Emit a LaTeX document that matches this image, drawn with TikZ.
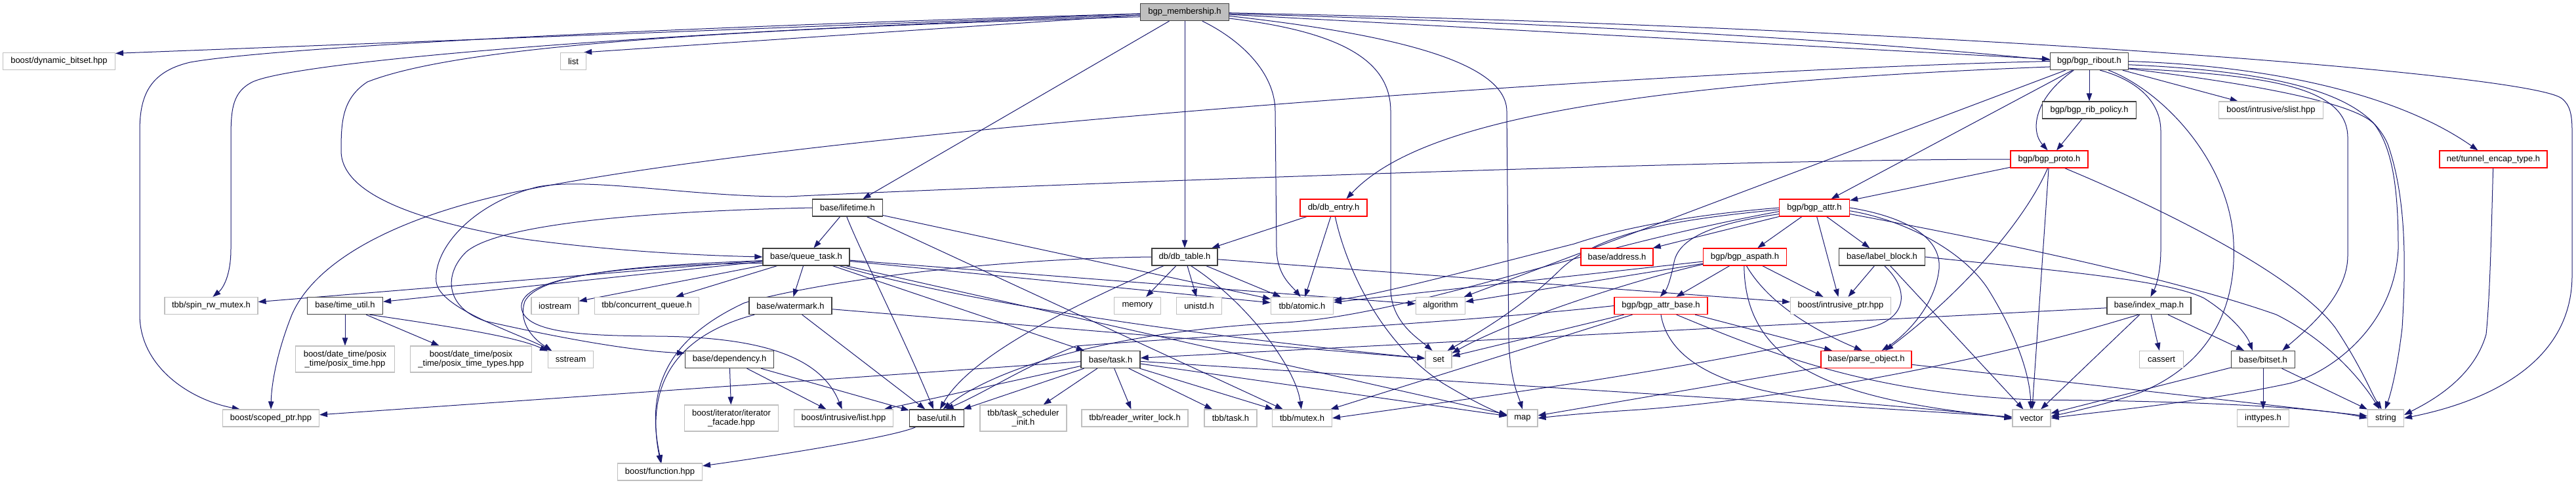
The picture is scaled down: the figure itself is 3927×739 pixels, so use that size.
\documentclass[tikz,border=0pt]{standalone}
\usepackage{fontspec}
\setmainfont{Liberation Sans}
\usetikzlibrary{arrows.meta,backgrounds}
\definecolor{edgeblue}{HTML}{191970}
\definecolor{boxgrey}{HTML}{BFBFBF}
\definecolor{rootline}{HTML}{404040}
\definecolor{boxred}{HTML}{FF0000}
\tikzset{
  nd/.style={rectangle, inner sep=0pt, minimum height=26pt, fill=white, align=center, font=\fontsize{13}{14.5}\selectfont, text=black},
  gn/.style={nd, draw=boxgrey, line width=1.1pt},
  bn/.style={nd, draw=rootline, line width=1.3pt},
  rn/.style={nd, draw=boxred, line width=1.3pt},
  rt/.style={nd, draw=rootline, fill=boxgrey, line width=1.3pt},
  W/.style={minimum width=#1pt},
  tall/.style={minimum height=40pt},
  edg/.style={draw=edgeblue, line width=1pt, -{Triangle[length=12pt,width=8.5pt]}},
}
\begin{document}
\begin{tikzpicture}[x=1pt,y=-1pt]
\useasboundingbox (0,0) rectangle (3927,739);
% ---------- nodes ----------
\node[rt,W=135] (M) at (1806,18.5) {bgp\_membership.h};
\node[gn,W=171] (dynb) at (90,93.5) {boost/dynamic\_bitset.hpp};
\node[gn,W=39] (list) at (874,93.5) {list};
\node[bn,W=119] (R) at (3185,93.5) {bgp/bgp\_ribout.h};
\node[bn,W=143] (ribpol) at (3185,168) {bgp/bgp\_rib\_policy.h};
\node[gn,W=159] (slist) at (3462,168) {boost/intrusive/slist.hpp};
\node[rn,W=118] (P) at (3124,243) {bgp/bgp\_proto.h};
\node[rn,W=164] (tunnel) at (3801,243) {net/tunnel\_encap\_type.h};
\node[bn,W=107] (lifetime) at (1292,317) {base/lifetime.h};
\node[rn,W=102] (DE) at (2033,317) {db/db\_entry.h};
\node[rn,W=107] (A) at (2766,317) {bgp/bgp\_attr.h};
\node[bn,W=132] (Q) at (1229,392) {base/queue\_task.h};
\node[bn,W=100] (DT) at (1806,392) {db/db\_table.h};
\node[rn,W=110] (address) at (2465,392) {base/address.h};
\node[rn,W=127] (aspath) at (2660,392) {bgp/bgp\_aspath.h};
\node[bn,W=131] (labelblock) at (2869,392) {base/label\_block.h};
\node[gn,W=142] (spinrw) at (322,466.5) {tbb/spin\_rw\_mutex.h};
\node[bn,W=115] (timeutil) at (526,466.5) {base/time\_util.h};
\node[gn,W=72] (iostream) at (846,466.5) {iostream};
\node[gn,W=159] (concq) at (986,466.5) {tbb/concurrent\_queue.h};
\node[bn,W=126] (watermark) at (1205,466.5) {base/watermark.h};
\node[gn,W=71] (memory) at (1734,466.5) {memory};
\node[gn,W=69] (unistd) at (1828,466.5) {unistd.h};
\node[gn,W=95] (atomic) at (1985,466.5) {tbb/atomic.h};
\node[gn,W=75] (algorithm) at (2196,466.5) {algorithm};
\node[rn,W=142] (attrbase) at (2532,466.5) {bgp/bgp\_attr\_base.h};
\node[gn,W=153] (intrusiveptr) at (2806,466.5) {boost/intrusive\_ptr.hpp};
\node[bn,W=128] (indexmap) at (3276,466.5) {base/index\_map.h};
\node[gn,W=151,tall] (posixtime) at (526,548) {boost/date\_time/posix\\\_time/posix\_time.hpp};
\node[gn,W=185,tall] (posixtypes) at (718,548) {boost/date\_time/posix\\\_time/posix\_time\_types.hpp};
\node[gn,W=69] (sstream) at (870,548.5) {sstream};
\node[bn,W=135] (dependency) at (1112,548.5) {base/dependency.h};
\node[bn,W=90] (T) at (1693,548.5) {base/task.h};
\node[gn,W=40] (set) at (2193,548.5) {set};
\node[rn,W=138] (parse) at (2845,548.5) {base/parse\_object.h};
\node[gn,W=67] (cassert) at (3295,548.5) {cassert};
\node[bn,W=97] (bitset) at (3450,548.5) {base/bitset.h};
\node[gn,W=147] (scoped) at (413,638) {boost/scoped\_ptr.hpp};
\node[gn,W=143,tall] (iterfacade) at (1115,638) {boost/iterator/iterator\\\_facade.hpp};
\node[gn,W=151] (ilist) at (1286,638) {boost/intrusive/list.hpp};
\node[bn,W=83] (util) at (1428,638) {base/util.h};
\node[gn,W=132,tall] (tsi) at (1560,638) {tbb/task\_scheduler\\\_init.h};
\node[gn,W=162] (rwlock) at (1730,638) {tbb/reader\_writer\_lock.h};
\node[gn,W=80] (tbbtask) at (1876,638) {tbb/task.h};
\node[gn,W=91] (mutex) at (1985,638) {tbb/mutex.h};
\node[gn,W=46] (map) at (2321,638) {map};
\node[gn,W=58] (vector) at (3097,638) {vector};
\node[gn,W=79] (inttypes) at (3450,638) {inttypes.h};
\node[gn,W=55] (string) at (3637,638) {string};
\node[gn,W=129] (function) at (1006,720) {boost/function.hpp};
% ---------- edges ----------
\begin{scope}[on background layer]
\fill[white] (0,0) rectangle (3927,739);
% bgp_membership.h
\draw[edg] (M) -- (dynb.8);
\draw[edg] (M) -- (list.40);
\draw[edg] (M.182) .. controls (900,45) and (400,75) .. (290,95) .. controls (225,110) and (213,150) .. (213,200) -- (213,480) .. controls (213,560) and (290,610) .. (scoped.164);
\draw[edg] (M.184) .. controls (950,50) and (450,95) .. (385,125) .. controls (355,140) and (352,165) .. (352,210) -- (352,380) .. controls (352,420) and (340,440) .. (spinrw.80);
\draw[edg] (M.186) .. controls (1100,45) and (700,70) .. (560,125) .. controls (522,150) and (520,185) .. (520,230) .. controls (520,300) and (650,340) .. (800,365) .. controls (950,385) and (1080,390) .. (Q.west);
\draw[edg] (M) -- (lifetime);
\draw[edg] (M) -- (DT);
\draw[edg] (M.-27) .. controls (1890,60) and (1944,110) .. (1944,170) -- (1946,380) .. controls (1947,420) and (1968,435) .. (atomic.100);
\draw[edg] (M.-8) .. controls (2060,50) and (2120,100) .. (2120,170) -- (2120,440) .. controls (2120,490) and (2160,515) .. (set.125);
\draw[edg] (M.-5) .. controls (2150,55) and (2297,100) .. (2297,170) -- (2300,520) .. controls (2302,580) and (2315,605) .. (map.north);
\draw[edg] (M) -- (R);
\draw[edg] (M.-1) .. controls (2900,40) and (3850,110) .. (3905,150) .. controls (3918,160) and (3921,175) .. (3921,200) -- (3921,420) .. controls (3921,560) and (3780,615) .. (string.east);
\draw[edg] (M.-2) .. controls (2900,50) and (3560,120) .. (3620,190) .. controls (3650,230) and (3656,300) .. (3656,380) .. controls (3650,500) and (3550,570) .. (3490,585) .. controls (3350,615) and (3200,628) .. (vector.east);
% bgp_ribout.h
\draw[edg] (R.west) .. controls (2600,105) and (1300,190) .. (800,290) .. controls (600,330) and (480,400) .. (445,480) .. controls (425,530) and (414,580) .. (scoped.north);
\draw[edg] (R.188) .. controls (2400,130) and (2150,200) .. (DE.35);
\draw[edg] (R) -- (algorithm);
\draw[edg] (R) -- (A);
\draw[edg] (R.-150) .. controls (3100,150) and (3095,200) .. (P.100);
\draw[edg] (R) -- (ribpol);
\draw[edg] (R) -- (slist);
\draw[edg] (R.east) .. controls (3450,100) and (3650,140) .. (tunnel.150);
\draw[edg] (R.-40) .. controls (3250,120) and (3294,150) .. (3294,200) -- (3294,380) .. controls (3294,420) and (3285,440) .. (indexmap.80);
\draw[edg] (R.-10) .. controls (3450,115) and (3579,130) .. (3579,210) -- (3579,390) .. controls (3579,450) and (3520,500) .. (bitset.25);
\draw[edg] (R.-25) .. controls (3300,140) and (3400,250) .. (3405,370) .. controls (3410,480) and (3360,560) .. (3260,600) .. controls (3200,620) and (3150,630) .. (vector.5);
\draw[edg] (R.-5) .. controls (3500,110) and (3610,150) .. (3640,220) .. controls (3668,300) and (3668,400) .. (3662,500) .. controls (3655,560) and (3645,600) .. (string.95);
\draw[edg] (ribpol) -- (P);
% bgp_proto.h
\draw[edg] (P) -- (A);
\draw[edg] (P.west) .. controls (2600,243) and (1500,285) .. (1200,300) .. controls (1050,300) and (900,270) .. (820,285) .. controls (720,310) and (660,380) .. (665,430) .. controls (670,470) and (780,505) .. (sstream.155);
\draw[edg] (P.-100) .. controls (3090,330) and (3000,440) .. (parse.25);
\draw[edg] (P) -- (vector);
\draw[edg] (P.-30) .. controls (3300,320) and (3500,420) .. (3560,500) .. controls (3600,560) and (3615,600) .. (string.115);
\draw[edg] (tunnel) .. controls (3798,350) and (3796,450) .. (3790,510) .. controls (3770,580) and (3700,615) .. (string.10);
% lifetime.h
\draw[edg] (lifetime) -- (Q);
\draw[edg] (lifetime.-95) .. controls (1310,380) and (1380,520) .. (util.110);
\draw[edg] (lifetime) -- (mutex);
\draw[edg] (lifetime) -- (atomic);
\draw[edg] (lifetime.west) .. controls (1000,322) and (760,340) .. (710,385) .. controls (675,420) and (680,470) .. (740,490) .. controls (850,515) and (960,535) .. (dependency.172);
% db_entry.h
\draw[edg] (DE) -- (DT);
\draw[edg] (DE) -- (atomic);
\draw[edg] (DE.-80) .. controls (2050,400) and (2100,520) .. (2200,585) .. controls (2250,615) and (2280,628) .. (map.170);
% bgp_attr.h
\draw[edg] (A) -- (address);
\draw[edg] (A) -- (aspath);
\draw[edg] (A.190) .. controls (2620,340) and (2560,360) .. (2552,400) .. controls (2547,425) and (2542,440) .. (attrbase.95);
\draw[edg] (A) -- (labelblock);
\draw[edg] (A) -- (intrusiveptr);
\draw[edg] (A.east) .. controls (2900,330) and (2960,360) .. (2956,410) .. controls (2950,470) and (2900,515) .. (parse.30);
\draw[edg] (A.-5) .. controls (2900,335) and (2990,380) .. (3030,440) .. controls (3080,520) and (3095,580) .. (vector.95);
\draw[edg] (A.-10) .. controls (3000,360) and (3300,420) .. (3470,480) .. controls (3550,520) and (3600,580) .. (string.125);
\draw[edg] (A.west) .. controls (2550,330) and (2450,355) .. (2400,372) .. controls (2250,410) and (2100,450) .. (atomic.10);
\draw[edg] (A.183) .. controls (2550,335) and (2440,355) .. (2380,410) .. controls (2320,470) and (2250,510) .. (set.45);
\draw[edg] (A.186) .. controls (2400,380) and (2150,480) .. (1960,492) .. controls (1700,505) and (1520,560) .. (util.55);
% queue_task.h
\draw[edg] (Q) -- (spinrw);
\draw[edg] (Q) -- (timeutil);
\draw[edg] (Q) -- (iostream);
\draw[edg] (Q) -- (concq);
\draw[edg] (Q) -- (watermark);
\draw[edg] (Q.185) .. controls (950,405) and (820,420) .. (800,460) .. controls (790,490) and (810,515) .. (sstream.155);
\draw[edg] (Q.188) .. controls (900,405) and (790,430) .. (795,470) .. controls (800,510) and (900,512) .. (1000,513) .. controls (1150,514) and (1250,540) .. (ilist.100);
\draw[edg] (Q) -- (T);
\draw[edg] (Q) -- (atomic);
\draw[edg] (Q) -- (algorithm);
\draw[edg] (Q.-15) .. controls (1500,470) and (1900,520) .. (set.175);
\draw[edg] (Q) -- (map);
% task.h
\draw[edg] (T) -- (scoped);
\draw[edg] (T) -- (ilist);
\draw[edg] (T) -- (util);
\draw[edg] (T) -- (tsi);
\draw[edg] (T) -- (rwlock);
\draw[edg] (T) -- (tbbtask);
\draw[edg] (T) -- (mutex);
\draw[edg] (T) -- (map);
\draw[edg] (T) -- (vector);
% db_table.h
\draw[edg] (DT) -- (memory);
\draw[edg] (DT) -- (unistd);
\draw[edg] (DT) -- (atomic);
\draw[edg] (DT.-157) .. controls (1650,460) and (1480,540) .. (util.70);
\draw[edg] (DT.-55) .. controls (1900,460) and (1975,560) .. (mutex.95);
\draw[edg] (DT.west) .. controls (1500,395) and (1250,430) .. (1135,462) .. controls (1010,520) and (985,600) .. (function.80);
\draw[edg] (DT) -- (intrusiveptr);
% bgp_aspath.h
\draw[edg] (aspath) -- (atomic);
\draw[edg] (aspath) -- (algorithm);
\draw[edg] (aspath.190) .. controls (2480,430) and (2300,490) .. (set.25);
\draw[edg] (aspath) -- (attrbase);
\draw[edg] (aspath) -- (intrusiveptr);
\draw[edg] (aspath.-80) .. controls (2700,470) and (2780,510) .. (parse.115);
\draw[edg] (aspath.-95) .. controls (2660,560) and (2800,610) .. (vector.178);
% label_block.h
\draw[edg] (labelblock) -- (intrusiveptr);
\draw[edg] (labelblock.-75) .. controls (2910,440) and (2910,485) .. (2850,500) .. controls (2600,560) and (2300,600) .. (mutex.east);
\draw[edg] (labelblock) -- (vector);
\draw[edg] (labelblock.east) .. controls (3100,410) and (3300,425) .. (3360,455) .. controls (3400,480) and (3425,510) .. (bitset.140);
% bgp_attr_base.h
\draw[edg] (attrbase) -- (set);
\draw[edg] (attrbase) -- (mutex);
\draw[edg] (attrbase.west) .. controls (2200,495) and (1800,515) .. (1640,528) .. controls (1560,560) and (1500,600) .. (util.45);
\draw[edg] (attrbase) -- (parse);
\draw[edg] (attrbase.-90) .. controls (2545,560) and (2650,600) .. (2800,612) .. controls (2950,625) and (3030,632) .. (vector.182);
\draw[edg] (attrbase.-30) .. controls (2700,540) and (2850,600) .. (3100,610) .. controls (3400,612) and (3550,625) .. (string.west);
% parse_object.h
\draw[edg] (parse) -- (map);
\draw[edg] (parse) -- (string);
% index_map.h
\draw[edg] (indexmap) -- (T);
\draw[edg] (indexmap.-140) .. controls (3000,560) and (2700,610) .. (2500,625) .. controls (2420,630) and (2380,634) .. (map.east);
\draw[edg] (indexmap) -- (vector);
\draw[edg] (indexmap) -- (cassert);
\draw[edg] (indexmap) -- (bitset);
% bitset.h
\draw[edg] (bitset) -- (string);
\draw[edg] (bitset) -- (inttypes);
\draw[edg] (bitset) -- (vector);
% time_util.h
\draw[edg] (timeutil) -- (posixtime);
\draw[edg] (timeutil) -- (posixtypes);
\draw[edg] (timeutil.-20) .. controls (700,500) and (790,515) .. (sstream.160);
% watermark.h
\draw[edg] (watermark.-166) .. controls (1000,520) and (990,620) .. (function.85);
\draw[edg] (watermark) -- (util);
\draw[edg] (watermark) -- (set);
% dependency.h
\draw[edg] (dependency) -- (iterfacade);
\draw[edg] (dependency) -- (ilist);
\draw[edg] (dependency) -- (util);
% util.h
\draw[edg] (util.-157) .. controls (1360,668) and (1150,700) .. (function.8);
\end{scope}
\end{tikzpicture}
\end{document}
